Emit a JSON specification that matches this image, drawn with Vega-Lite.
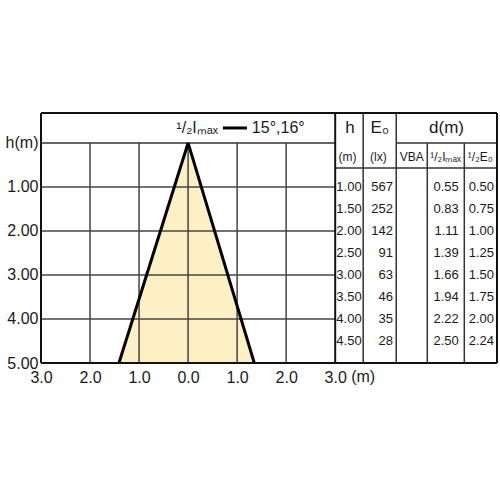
{
  "$schema": "https://vega.github.io/schema/vega-lite/v6.json",
  "width": 456,
  "height": 250,
  "padding": {"left": 5, "top": 112, "right": 0, "bottom": 0},
  "config": {
    "view": {"stroke": null},
    "font": "Liberation Sans",
    "text": {"font": "Liberation Sans", "color": "#1a1a1a"}
  },
  "datasets": {
    "table": [
      {"h": 1.0, "E0": 567, "Imax": 0.55, "E0half": 0.50},
      {"h": 1.5, "E0": 252, "Imax": 0.83, "E0half": 0.75},
      {"h": 2.0, "E0": 142, "Imax": 1.11, "E0half": 1.00},
      {"h": 2.5, "E0": 91, "Imax": 1.39, "E0half": 1.25},
      {"h": 3.0, "E0": 63, "Imax": 1.66, "E0half": 1.50},
      {"h": 3.5, "E0": 46, "Imax": 1.94, "E0half": 1.75},
      {"h": 4.0, "E0": 35, "Imax": 2.22, "E0half": 2.00},
      {"h": 4.5, "E0": 28, "Imax": 2.50, "E0half": 2.24}
    ],
    "beamArea": [
      {"h": 0, "left": 0, "right": 0},
      {"h": 5, "left": -1.41, "right": 1.35}
    ],
    "beamEdge": [
      {"side": "left", "h": 0, "d": 0},
      {"side": "left", "h": 5, "d": -1.41},
      {"side": "right", "h": 0, "d": 0},
      {"side": "right", "h": 5, "d": 1.35}
    ],
    "vgrid": [{"d": -2}, {"d": -1}, {"d": 0}, {"d": 1}, {"d": 2}],
    "hgrid": [{"h": 1}, {"h": 2}, {"h": 3}, {"h": 4}],
    "frame": [
      {"x1": -3, "x2": 6.3, "y1": -0.68, "y2": -0.68},
      {"x1": -3, "x2": 6.3, "y1": 5, "y2": 5},
      {"x1": -3, "x2": -3, "y1": -0.68, "y2": 5},
      {"x1": 6.3, "x2": 6.3, "y1": -0.68, "y2": 5},
      {"x1": 3, "x2": 3, "y1": -0.68, "y2": 5}
    ],
    "inner": [
      {"x1": -3, "x2": 3, "y1": 0, "y2": 0},
      {"x1": 4.245, "x2": 6.3, "y1": 0, "y2": 0},
      {"x1": 3, "x2": 6.3, "y1": 0.568, "y2": 0.568},
      {"x1": 3.571, "x2": 3.571, "y1": -0.68, "y2": 5},
      {"x1": 4.245, "x2": 4.245, "y1": -0.68, "y2": 5},
      {"x1": 4.878, "x2": 4.878, "y1": 0, "y2": 5},
      {"x1": 5.633, "x2": 5.633, "y1": 0, "y2": 5}
    ],
    "headers": [
      {"label": "h", "cx": 3.3, "cy": -0.34, "group": "big"},
      {"label": "E₀", "cx": 3.91, "cy": -0.34, "group": "big"},
      {"label": "d(m)", "cx": 5.27, "cy": -0.34, "group": "big"},
      {"label": "(m)", "cx": 3.25, "cy": 0.31, "group": "small"},
      {"label": "(lx)", "cx": 3.88, "cy": 0.31, "group": "small"},
      {"label": "VBA", "cx": 4.56, "cy": 0.31, "group": "small"},
      {"label": "¹/₂Iₘₐₓ", "cx": 5.25, "cy": 0.31, "group": "small"},
      {"label": "¹/₂E₀", "cx": 5.96, "cy": 0.31, "group": "small"}
    ]
  },
  "layer": [
    {
      "data": {"name": "beamArea"},
      "mark": {"type": "area", "orient": "horizontal", "color": "#fdf0c4"},
      "encoding": {
        "y": {
          "field": "h", "type": "quantitative",
          "scale": {"domain": [-0.68, 5], "reverse": true, "nice": false, "zero": false},
          "axis": {
            "values": [0, 1, 2, 3, 4, 5],
            "labelExpr": "datum.value == 0 ? 'h(m)' : format(datum.value, '.2f')",
            "domain": false, "ticks": false, "grid": false, "title": null,
            "labelFont": "Liberation Sans", "labelFontSize": 16, "labelColor": "#1a1a1a",
            "labelPadding": 3, "minExtent": 36, "maxExtent": 36, "labelFlush": false
          }
        },
        "x": {
          "field": "left", "type": "quantitative",
          "scale": {"domain": [-3, 6.3], "nice": false, "zero": false},
          "axis": {
            "values": [-3, -2, -1, 0, 1, 2, 3],
            "labelExpr": "format(abs(datum.value), '.1f')",
            "domain": false, "ticks": false, "grid": false, "title": null,
            "labelFont": "Liberation Sans", "labelFontSize": 16, "labelColor": "#1a1a1a",
            "labelPadding": 6, "labelFlush": false, "labelOverlap": false
          }
        },
        "x2": {"field": "right"}
      }
    },
    {
      "data": {"name": "vgrid"},
      "mark": {"type": "rule", "color": "#444444", "strokeWidth": 1.5},
      "encoding": {
        "x": {"field": "d", "type": "quantitative"},
        "y": {"datum": 0},
        "y2": {"datum": 5}
      }
    },
    {
      "data": {"name": "hgrid"},
      "mark": {"type": "rule", "color": "#444444", "strokeWidth": 1.5},
      "encoding": {
        "y": {"field": "h", "type": "quantitative"},
        "x": {"datum": -3},
        "x2": {"datum": 3}
      }
    },
    {
      "data": {"name": "inner"},
      "mark": {"type": "rule", "color": "#333333", "strokeWidth": 1.5},
      "encoding": {
        "x": {"field": "x1", "type": "quantitative"},
        "x2": {"field": "x2"},
        "y": {"field": "y1", "type": "quantitative"},
        "y2": {"field": "y2"}
      }
    },
    {
      "data": {"name": "beamEdge"},
      "mark": {"type": "line", "color": "#000000", "strokeWidth": 3, "strokeJoin": "miter"},
      "encoding": {
        "x": {"field": "d", "type": "quantitative"},
        "y": {"field": "h", "type": "quantitative"},
        "detail": {"field": "side"}
      }
    },
    {
      "data": {"name": "frame"},
      "mark": {"type": "rule", "color": "#111111", "strokeWidth": 2},
      "encoding": {
        "x": {"field": "x1", "type": "quantitative"},
        "x2": {"field": "x2"},
        "y": {"field": "y1", "type": "quantitative"},
        "y2": {"field": "y2"}
      }
    },
    {
      "data": {"name": "headers"},
      "transform": [{"filter": "datum.group == 'big'"}],
      "mark": {"type": "text", "fontSize": 17, "align": "center", "baseline": "middle"},
      "encoding": {
        "x": {"field": "cx", "type": "quantitative"},
        "y": {"field": "cy", "type": "quantitative"},
        "text": {"field": "label"}
      }
    },
    {
      "data": {"name": "headers"},
      "transform": [{"filter": "datum.group == 'small'"}],
      "mark": {"type": "text", "fontSize": 12, "align": "center", "baseline": "middle"},
      "encoding": {
        "x": {"field": "cx", "type": "quantitative"},
        "y": {"field": "cy", "type": "quantitative"},
        "text": {"field": "label"}
      }
    },
    {
      "data": {"name": "table"},
      "mark": {"type": "text", "fontSize": 13, "align": "right", "baseline": "middle"},
      "encoding": {
        "x": {"datum": 3.54},
        "y": {"field": "h", "type": "quantitative"},
        "text": {"field": "h", "type": "quantitative", "format": ".2f"}
      }
    },
    {
      "data": {"name": "table"},
      "mark": {"type": "text", "fontSize": 13, "align": "right", "baseline": "middle"},
      "encoding": {
        "x": {"datum": 4.18},
        "y": {"field": "h", "type": "quantitative"},
        "text": {"field": "E0", "type": "quantitative"}
      }
    },
    {
      "data": {"name": "table"},
      "mark": {"type": "text", "fontSize": 13, "align": "right", "baseline": "middle"},
      "encoding": {
        "x": {"datum": 5.52},
        "y": {"field": "h", "type": "quantitative"},
        "text": {"field": "Imax", "type": "quantitative", "format": ".2f"}
      }
    },
    {
      "data": {"name": "table"},
      "mark": {"type": "text", "fontSize": 13, "align": "right", "baseline": "middle"},
      "encoding": {
        "x": {"datum": 6.24},
        "y": {"field": "h", "type": "quantitative"},
        "text": {"field": "E0half", "type": "quantitative", "format": ".2f"}
      }
    },
    {
      "data": {"values": [{"label": "¹/₂Iₘₐₓ", "cx": 0.61, "cy": -0.34}]},
      "mark": {"type": "text", "fontSize": 16, "align": "right", "baseline": "middle"},
      "encoding": {
        "x": {"field": "cx", "type": "quantitative"},
        "y": {"field": "cy", "type": "quantitative"},
        "text": {"field": "label"}
      }
    },
    {
      "data": {"values": [{"x1": 0.71, "x2": 1.2, "cy": -0.34}]},
      "mark": {"type": "rule", "color": "#000000", "strokeWidth": 3},
      "encoding": {
        "x": {"field": "x1", "type": "quantitative"},
        "x2": {"field": "x2"},
        "y": {"field": "cy", "type": "quantitative"}
      }
    },
    {
      "data": {"values": [{"label": "15°,16°", "cx": 1.3, "cy": -0.34}]},
      "mark": {"type": "text", "fontSize": 16, "align": "left", "baseline": "middle"},
      "encoding": {
        "x": {"field": "cx", "type": "quantitative"},
        "y": {"field": "cy", "type": "quantitative"},
        "text": {"field": "label"}
      }
    },
    {
      "data": {"values": [{"label": "(m)", "cx": 3.57, "cy": 5}]},
      "mark": {"type": "text", "fontSize": 16, "align": "center", "baseline": "top", "dy": 6},
      "encoding": {
        "x": {"field": "cx", "type": "quantitative"},
        "y": {"field": "cy", "type": "quantitative"},
        "text": {"field": "label"}
      }
    }
  ]
}
